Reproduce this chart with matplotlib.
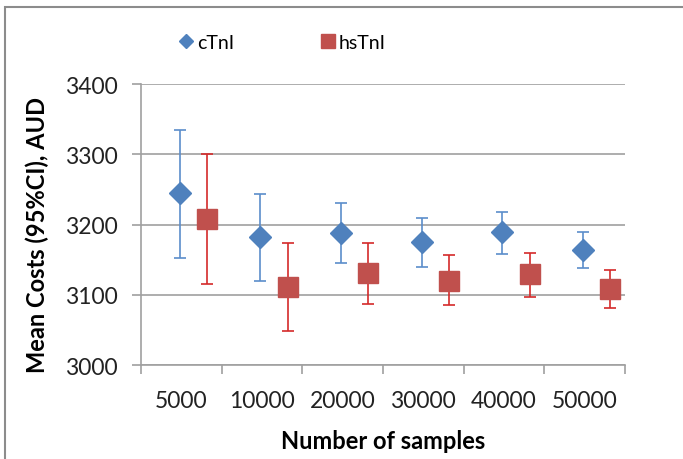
import matplotlib.pyplot as plt
from matplotlib.patches import Rectangle

plt.rcParams['font.family'] = ['Lato', 'DejaVu Sans']

# Datos
muestras = ['5000', '10000', '20000', '30000', '40000', '50000']
ctni_media = [3245, 3183, 3188, 3175, 3190, 3164]
ctni_bajo = [3152, 3120, 3145, 3140, 3158, 3138]
ctni_alto = [3334, 3243, 3231, 3209, 3218, 3189]
hstni_media = [3208, 3111, 3131, 3120, 3129, 3108]
hstni_bajo = [3116, 3048, 3087, 3085, 3097, 3081]
hstni_alto = [3301, 3174, 3174, 3156, 3159, 3136]

azul = '#4F81BD'
rojo = '#C0504D'
gris = '#A0A0A0'

fig = plt.figure(figsize=(6.83, 4.6), dpi=100)
ax = fig.add_axes([0.2064, 0.2043, 0.7086, 0.6107])

# Marco del gráfico
fig.patches.append(Rectangle((5 / 683, -0.1), 1.0, 1 - 8 / 460 + 0.1,
                             transform=fig.transFigure, fill=False,
                             edgecolor='#8C8C8C', linewidth=1.5))

x = list(range(len(muestras)))
x_c = [i - 0.02 for i in x]
x_h = [i + 0.32 for i in x]

err_c = [[m - b for m, b in zip(ctni_media, ctni_bajo)],
         [a - m for m, a in zip(ctni_media, ctni_alto)]]
err_h = [[m - b for m, b in zip(hstni_media, hstni_bajo)],
         [a - m for m, a in zip(hstni_media, hstni_alto)]]

ax.errorbar(x_c, ctni_media, yerr=err_c, fmt='D', color=azul, ecolor='#5B8DCB',
            markersize=11.5, capsize=4.5, elinewidth=1.2, capthick=1.2,
            zorder=3)
ax.errorbar(x_h, hstni_media, yerr=err_h, fmt='s', color=rojo, ecolor='#D42A2A',
            markersize=15, capsize=4.5, elinewidth=1.2, capthick=1.2,
            zorder=3)

ax.set_xlim(-0.5, 5.5)
ax.set_ylim(3000, 3400)
ax.set_yticks([3000, 3100, 3200, 3300, 3400])
ax.set_xticks(x)
ax.set_xticklabels(muestras)
ax.set_xticks([i - 0.5 for i in range(7)], minor=True)
ax.tick_params(axis='x', which='major', length=0, pad=18, labelsize=16.5,
               labelcolor='#222222')
ax.tick_params(axis='x', which='minor', length=6.5, color=gris, width=1.2)
ax.tick_params(axis='y', length=6.5, color=gris, width=1.2, labelsize=16.5,
               pad=10, labelcolor='#222222')
ax.yaxis.grid(True, color=gris, linewidth=1.2)
ax.set_axisbelow(True)

for lado in ['top', 'right']:
    ax.spines[lado].set_visible(False)
for lado in ['left', 'bottom']:
    ax.spines[lado].set_color(gris)
    ax.spines[lado].set_linewidth(1.2)

ax.set_xlabel('Number of samples', fontsize=17, fontweight='bold')
ax.set_ylabel('Mean Costs (95%CI), AUD', fontsize=17, fontweight='bold')
ax.xaxis.set_label_coords(0.5, -0.228)
ax.yaxis.set_label_coords(-0.19, 0.466)

# Leyenda
h1, = ax.plot([], [], 'D', color=azul, markersize=7)
h2, = ax.plot([], [], 's', color=rojo, markersize=9.5)
fig.legend([h1, h2], ['cTnI', 'hsTnI'], loc='center left', ncol=2,
           bbox_to_anchor=(0.2624, 0.9054), frameon=False, fontsize=14,
           handletextpad=0.2, columnspacing=4.5, handlelength=0.7,
           borderpad=0, borderaxespad=0)

plt.savefig('out.png', dpi=100)
